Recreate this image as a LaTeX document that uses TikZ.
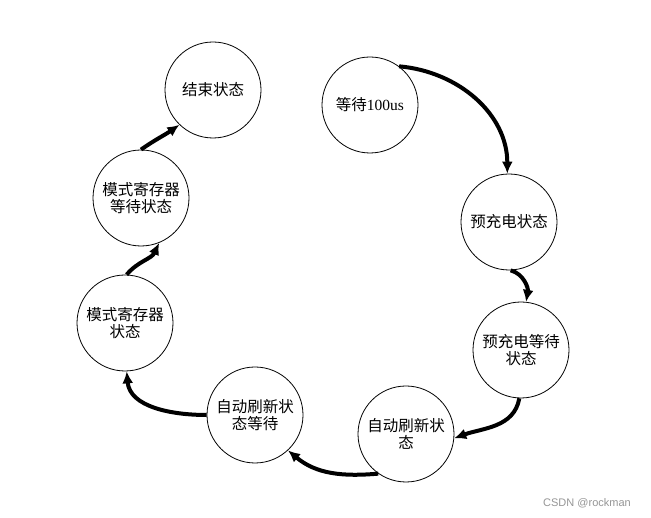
\documentclass[tikz,border=0pt]{standalone}
\usepackage{fontspec}
\usepackage{tikz}
\usetikzlibrary{arrows.meta}
\setmainfont{Noto Sans CJK SC}
\newfontfamily\latinfont{Liberation Serif}
\newfontfamily\markfont{Liberation Sans}
\definecolor{markgray}{RGB}{150,150,150}
\newcommand{\statecircle}[4]{\node[statecircle] (#1) at (#2,#3) {#4};}
\newcommand{\drawflow}{\draw[flow]}
\tikzset{
  statecircle/.style={circle, draw, line width=0.8pt, minimum size=96pt, inner sep=0pt,
    align=center, font=\fontsize{15.5}{17}\selectfont},
  flow/.style={line width=4pt, -{Latex[length=12pt,width=11pt]}}
}
\begin{document}
\begin{tikzpicture}[x=1pt,y=1pt]
\useasboundingbox[fill=white] (0,0) rectangle (651,518);
% states, clockwise from the first one
\statecircle{wait}{370}{413}{等待{\latinfont 100us}}
\statecircle{precharge}{509}{296}{预充电状态}
\statecircle{prewait}{521}{168}{预充电等待\\状态}
\statecircle{refresh}{406}{84}{自动刷新状\\态}
\statecircle{refreshwait}{255}{103}{自动刷新状\\态等待}
\statecircle{mode}{125}{195}{模式寄存器\\状态}
\statecircle{modewait}{141}{320}{模式寄存器\\等待状态}
\statecircle{done}{213}{428}{结束状态}
% transitions
\drawflow (wait.53) to[out=-5,in=90] (precharge.92);
\drawflow (precharge.-88) to[out=-15,in=80] (prewait.84);
\drawflow (prewait.-92) to[out=-100,in=20] (refresh.-5);
\drawflow (refresh.235) to[out=185,in=-40] (refreshwait.-47);
\drawflow (refreshwait.180) to[out=180,in=-85] (mode.-88);
\drawflow (mode.88) to[out=50,in=-115] (modewait.-68);
\drawflow (modewait.90) to[out=35,in=-145] (done.226);
\node[text=markgray, font=\markfont\fontsize{11}{13}\selectfont] (mark) at (587,15) {CSDN @rockman};
\end{tikzpicture}
\end{document}
